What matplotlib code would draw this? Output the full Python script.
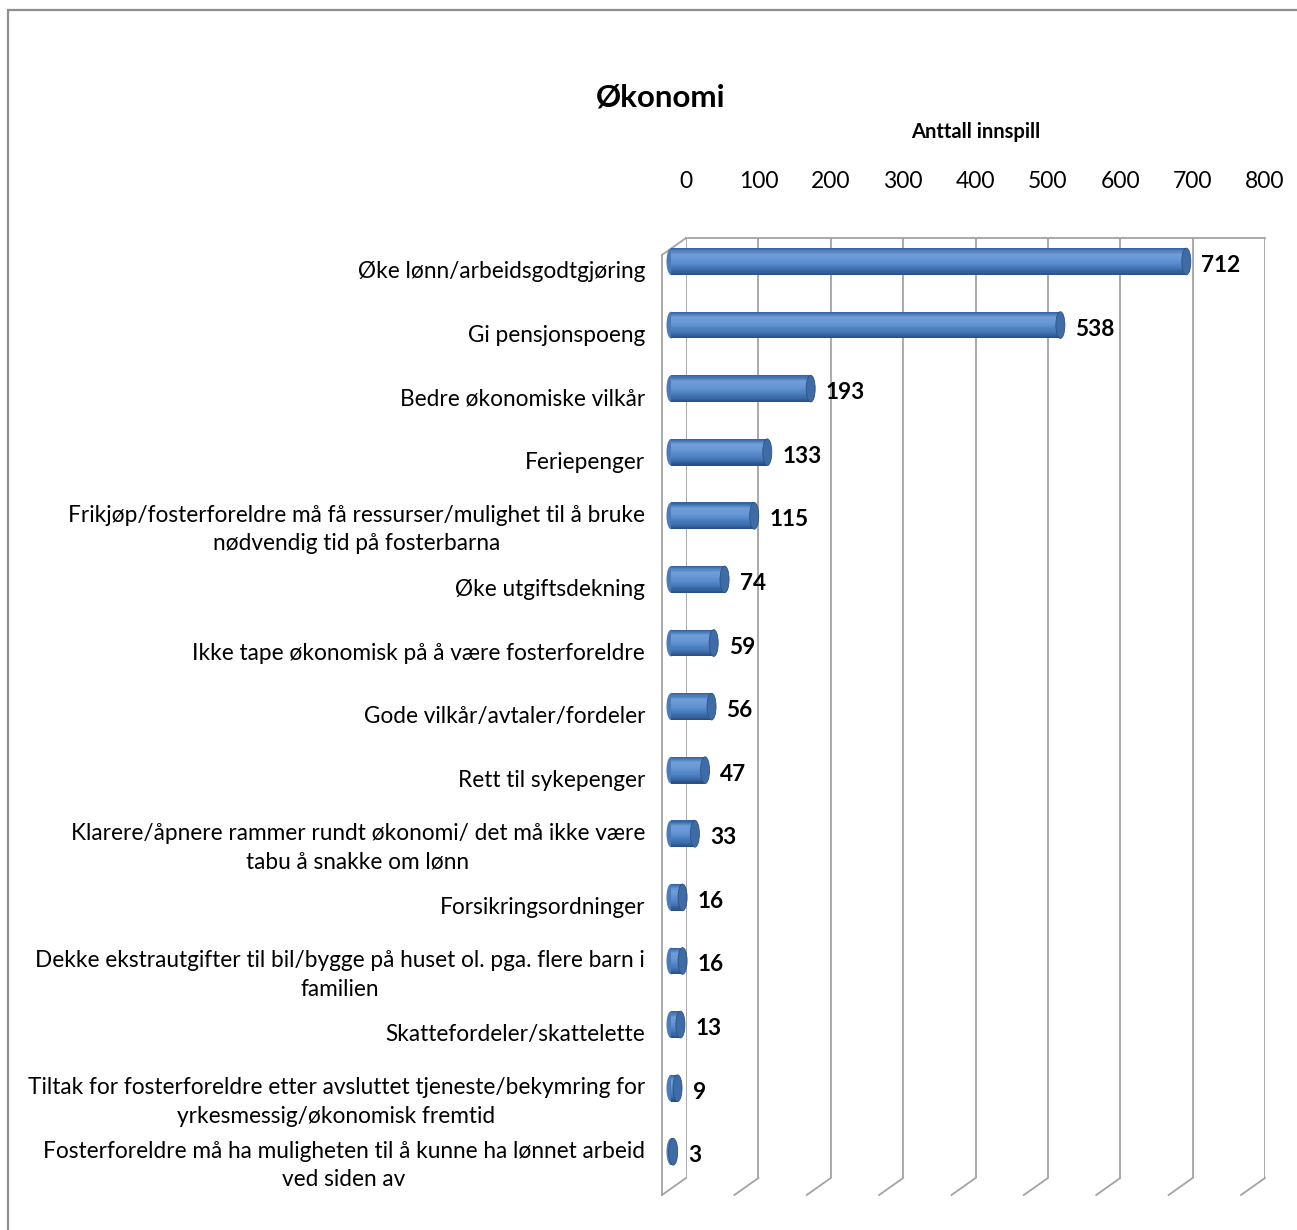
import numpy as np
import matplotlib.pyplot as plt
from matplotlib.colors import LinearSegmentedColormap
from matplotlib.patches import Ellipse, Rectangle
from matplotlib.transforms import ScaledTranslation

# data
categories = [
    "Øke lønn/arbeidsgodtgjøring",
    "Gi pensjonspoeng",
    "Bedre økonomiske vilkår",
    "Feriepenger",
    "Frikjøp/fosterforeldre må få ressurser/mulighet til å bruke\nnødvendig tid på fosterbarna",
    "Øke utgiftsdekning",
    "Ikke tape økonomisk på å være fosterforeldre",
    "Gode vilkår/avtaler/fordeler",
    "Rett til sykepenger",
    "Klarere/åpnere rammer rundt økonomi/ det må ikke være\ntabu å snakke om lønn",
    "Forsikringsordninger",
    "Dekke ekstrautgifter til bil/bygge på huset ol. pga. flere barn i\nfamilien",
    "Skattefordeler/skattelette",
    "Tiltak for fosterforeldre etter avsluttet tjeneste/bekymring for\nyrkesmessig/økonomisk fremtid",
    "Fosterforeldre må ha muligheten til å kunne ha lønnet arbeid\nved siden av",
]
values = [712, 538, 193, 133, 115, 74, 59, 56, 47, 33, 16, 16, 13, 9, 3]
ticks = [0, 100, 200, 300, 400, 500, 600, 700, 800]

title = "Økonomi"
axis_title = "Anttall innspill"

plt.rcParams['font.family'] = ['Lato', 'DejaVu Sans']

W, H = 1297, 1230
fig = plt.figure(figsize=(W / 100, H / 100), dpi=100)

# back wall of the 3d box
ax = fig.add_axes([686 / W, (H - 1178) / H, 579 / W, 940 / H])
ypos = np.arange(len(values))
ytop, ybot = -0.212, 14.57
ax.set_xlim(0, 800)
ax.set_ylim(ybot, ytop)

grid = '#A3A3A3'
px_x = 800 / 579           # data units per pixel, x
px_y = (ybot - ytop) / 940  # data units per pixel, y
dx, dy = -24 * px_x, 17 * px_y  # depth of the box

for t in ticks:
    ax.axvline(t, color=grid, lw=1.3, zorder=1)
    ax.plot([t, t + dx], [ybot, ybot + dy], color=grid, lw=1.3, clip_on=False)
ax.plot([dx, dx], [ytop + dy, ybot + dy], color=grid, lw=1.3, clip_on=False)
ax.plot([0, dx], [ytop, ytop + dy], color=grid, lw=1.3, clip_on=False)

for s in ['left', 'right', 'bottom']:
    ax.spines[s].set_visible(False)
ax.spines['top'].set_color(grid)
ax.spines['top'].set_linewidth(1.3)

# cylinder bars
bar_tr = ax.transData + ScaledTranslation(-15 / 100, -10 / 100, fig.dpi_scale_trans)
cmap = LinearSegmentedColormap.from_list(
    'cyl', ['#3565A2', '#6F9DDA', '#6A98D6', '#5587C8', '#4172B0', '#28508A'])
h = 0.42
nsl = 24
cap_w = 9 * px_x
for i, v in enumerate(values):
    ax.add_patch(Ellipse((0, i), cap_w, h, facecolor='#4A7BBB', edgecolor='none',
                         transform=bar_tr, zorder=2, clip_on=False))
for k in range(nsl):
    ax.barh(ypos - h / 2 + (k + 0.5) * h / nsl, values, height=h / nsl * 1.05,
            left=0, color=cmap(k / (nsl - 1)), transform=bar_tr, zorder=3, clip_on=False)
for i, v in enumerate(values):
    ax.add_patch(Ellipse((v, i), cap_w, h, facecolor='#3F6CA6', edgecolor='#2B5283',
                         lw=0.6, transform=bar_tr, zorder=4, clip_on=False))
    ax.text(v, i, str(v), transform=bar_tr + ScaledTranslation(0.15, -0.04, fig.dpi_scale_trans),
            ha='left', va='center', fontsize=16.3, fontweight='bold', zorder=5)

# axes text
ax.xaxis.tick_top()
ax.set_xticks(ticks)
ax.tick_params(axis='x', length=0, pad=33, labelsize=16.5)
ax.xaxis.set_label_position('top')
ax.set_xlabel(axis_title, fontsize=14.5, fontweight='bold', labelpad=24)

ax.set_yticks(ypos, labels=categories)
ax.tick_params(axis='y', length=0, pad=29.5, labelsize=16.3)
for lab in ax.get_yticklabels():
    lab.set_multialignment('center')
    lab.set_linespacing(1.45)
    lab.set_transform(lab.get_transform() + ScaledTranslation(0, -0.18, fig.dpi_scale_trans))

fig.text(661 / W, 1 - 98 / H, title, ha='center', va='center', fontsize=22.5, fontweight='bold')

fig.add_artist(Rectangle((8 / W, -0.1), 1.2, 1 - 10 / H + 0.1, transform=fig.transFigure,
                         fill=False, ec='#8E8E8E', lw=1.6))

fig.savefig('out.png', dpi=100)
